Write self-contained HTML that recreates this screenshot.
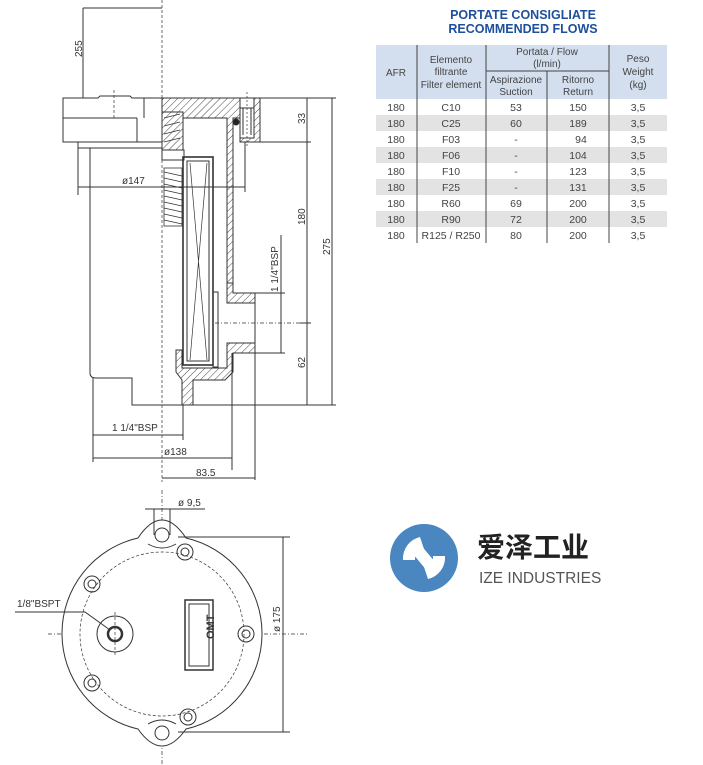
<!DOCTYPE html>
<html><head><meta charset="utf-8"><style>
html,body{margin:0;padding:0;background:#fff;}
body{width:703px;height:765px;position:relative;overflow:hidden;font-family:"Liberation Sans",Arial,sans-serif;}
svg{position:absolute;left:0;top:0;}
</style></head><body>
<svg width="703" height="765" viewBox="0 0 703 765" xmlns="http://www.w3.org/2000/svg" font-family="Liberation Sans, Arial, sans-serif">
<defs>
<pattern id="h" width="5" height="5" patternUnits="userSpaceOnUse" patternTransform="rotate(45)">
<rect width="5" height="5" fill="#fff"/><line x1="0" y1="0" x2="0" y2="5" stroke="#333" stroke-width="0.9"/>
</pattern>
</defs>
<g stroke="#333" stroke-width="1" fill="none">
<line x1="162" y1="0" x2="162" y2="482" stroke-dasharray="3,2" stroke-width="0.7"/>
<line x1="162" y1="490" x2="162" y2="765" stroke-dasharray="4,2,1,2" stroke-width="0.7"/>
<line x1="48" y1="634" x2="308" y2="634" stroke-dasharray="4,2,1,2" stroke-width="0.7"/>
<line x1="83" y1="8" x2="83" y2="98"/><line x1="83" y1="8" x2="162" y2="8"/>
<path d="M63 98 H98 L100 96 H130 L132 98 H162 V142 H63 Z" fill="#fff"/>
<line x1="63" y1="118" x2="137" y2="118"/><line x1="137" y1="118" x2="137" y2="142"/><line x1="144" y1="98" x2="144" y2="118"/>
<line x1="114" y1="90" x2="114" y2="118" stroke-dasharray="3,2" stroke-width="0.7"/>
<path d="M78 142 V148 H162"/>
<path d="M90 148 V373 Q90 378 96 378 H132 V405 H185"/>
<line x1="78" y1="148" x2="78" y2="195"/>
<path d="M162 98 H260 V142 H240 V118 H233 V283 H227 V118 H162 Z" fill="url(#h)"/>
<path d="M162 112 H183 V150 H162 Z" fill="url(#h)"/>
<path d="M227 283 H233 V293 H255 V303 H227 Z" fill="url(#h)"/>
<path d="M227 343 H255 V353 H233 V372 L225 380 H193 V405 H182 V380 L176 372 V350 H182 V368 H227 Z" fill="url(#h)"/>
<rect x="240" y="98" width="14" height="40" fill="#fff"/>
<line x1="243" y1="108" x2="243" y2="135"/><line x1="251" y1="108" x2="251" y2="135"/><rect x="240" y="98" width="14" height="10"/>
<line x1="247" y1="92" x2="247" y2="148" stroke-dasharray="2,2" stroke-width="0.7"/>
<circle cx="236" cy="122" r="3" fill="#222"/>
<line x1="227" y1="303" x2="255" y2="303"/><line x1="227" y1="343" x2="255" y2="343"/>
<line x1="255" y1="293" x2="255" y2="480"/><line x1="232" y1="353" x2="232" y2="470"/>
<line x1="215" y1="323" x2="300" y2="323" stroke-dasharray="4,2,1,2" stroke-width="0.7"/>
<rect x="183" y="157" width="30" height="208" stroke-width="1.6"/>
<rect x="187" y="161" width="22" height="200"/>
<path d="M190 163 L207 360 M207 163 L190 360" stroke-width="0.7"/>
<rect x="213" y="292" width="5" height="75"/>
<rect x="162" y="150" width="22" height="10"/>
<g stroke-width="0.8">
<rect x="164" y="168" width="18" height="58"/>
<path d="M164 172 L182 176 M164 178 L182 182 M164 184 L182 188 M164 190 L182 194 M164 196 L182 200 M164 202 L182 206 M164 208 L182 212 M164 214 L182 218 M164 220 L182 224"/>
<path d="M164 118 L180 114 M164 126 L180 122 M164 134 L180 130 M164 142 L180 138"/>
</g>
<line x1="307" y1="98" x2="307" y2="405"/><line x1="332" y1="98" x2="332" y2="405"/>
<line x1="260" y1="98" x2="336" y2="98"/><line x1="260" y1="142" x2="311" y2="142"/>
<line x1="300" y1="323" x2="311" y2="323"/><line x1="185" y1="405" x2="336" y2="405"/>
<line x1="281" y1="235" x2="281" y2="353"/><line x1="255" y1="293" x2="285" y2="293"/><line x1="255" y1="353" x2="285" y2="353"/>
<line x1="78" y1="187" x2="245" y2="187"/><line x1="245" y1="142" x2="245" y2="192"/>
<line x1="93" y1="378" x2="93" y2="462"/>
<line x1="93" y1="435" x2="183" y2="435"/><line x1="183" y1="405" x2="183" y2="440"/>
<line x1="93" y1="458" x2="232" y2="458"/>
<line x1="162" y1="478" x2="255" y2="478"/>
<path d="M138 538 Q150 520 162 520 Q174 520 186 538 A98 98 0 0 1 186 729 Q174 746 162 746 Q150 746 138 729 A98 98 0 0 1 138 538 Z" fill="#fff"/>
<path d="M148 544 Q162 552 176 544 M148 724 Q162 716 176 724" stroke-width="0.9"/>
<circle cx="162" cy="634" r="82" stroke-dasharray="3,2" stroke-width="0.7"/>
<circle cx="162" cy="535" r="7"/><circle cx="162" cy="733" r="7"/>
<g>
<circle cx="185" cy="552" r="8"/><circle cx="185" cy="552" r="4"/>
<circle cx="92" cy="584" r="8"/><circle cx="92" cy="584" r="4"/>
<circle cx="246" cy="634" r="8"/><circle cx="246" cy="634" r="4"/>
<circle cx="92" cy="683" r="8"/><circle cx="92" cy="683" r="4"/>
<circle cx="188" cy="717" r="8"/><circle cx="188" cy="717" r="4"/>
</g>
<circle cx="115" cy="634" r="18"/><circle cx="115" cy="634" r="7" stroke-width="2.5"/>
<line x1="115" y1="612" x2="115" y2="656" stroke-dasharray="3,2" stroke-width="0.7"/>
<rect x="185" y="600" width="28" height="70" stroke-width="1.5"/>
<rect x="189" y="604" width="20" height="62"/>
<path d="M15 612 H85 L110 630"/>
<line x1="154" y1="509" x2="154" y2="535"/><line x1="170" y1="509" x2="170" y2="535"/>
<line x1="145" y1="509" x2="205" y2="509"/>
<line x1="283" y1="537" x2="283" y2="732"/><line x1="178" y1="537" x2="290" y2="537"/><line x1="178" y1="732" x2="290" y2="732"/>
</g>
<g fill="#333" font-size="10">
<text x="0" y="0" transform="translate(82,57) rotate(-90)">255</text>
<text x="0" y="0" transform="translate(305,124) rotate(-90)">33</text>
<text x="0" y="0" transform="translate(305,225) rotate(-90)">180</text>
<text x="0" y="0" transform="translate(330,255) rotate(-90)">275</text>
<text x="0" y="0" transform="translate(305,368) rotate(-90)">62</text>
<text x="0" y="0" transform="translate(278,292) rotate(-90)">1 1/4"BSP</text>
<text x="122" y="184">ø147</text>
<text x="112" y="431">1 1/4"BSP</text>
<text x="164" y="455">ø138</text>
<text x="196" y="476">83.5</text>
<text x="178" y="506">ø 9,5</text>
<text x="17" y="607">1/8"BSPT</text>
<text x="0" y="0" transform="translate(280,632) rotate(-90)">ø 175</text>
<text x="195" y="650" font-size="11" font-weight="bold" transform="rotate(-90 199 635)">OMT</text>
</g>
<g font-family="Liberation Sans, Arial, sans-serif">
<text x="523" y="19" text-anchor="middle" font-size="12.5" font-weight="bold" fill="#1d4f9c">PORTATE CONSIGLIATE</text>
<text x="523" y="33" text-anchor="middle" font-size="12.5" font-weight="bold" fill="#1d4f9c">RECOMMENDED FLOWS</text>
<rect x="376" y="45" width="291" height="54" fill="#d3deee"/>
<g fill="#e3e3e3">
<rect x="376" y="115" width="291" height="16"/><rect x="376" y="147" width="291" height="16"/>
<rect x="376" y="179" width="291" height="16"/><rect x="376" y="211" width="291" height="16"/>
</g>
<g stroke="#444" stroke-width="1">
<line x1="417" y1="45" x2="417" y2="243"/><line x1="486" y1="45" x2="486" y2="243"/>
<line x1="547" y1="71" x2="547" y2="243"/><line x1="609" y1="45" x2="609" y2="243"/>
<line x1="486" y1="71" x2="609" y2="71"/>
</g>
<g font-size="10" fill="#444" text-anchor="middle">
<text x="396" y="76">AFR</text>
<text x="451" y="63">Elemento</text><text x="451" y="75">filtrante</text><text x="451" y="88">Filter element</text>
<text x="547" y="55">Portata / Flow</text><text x="547" y="67">(l/min)</text>
<text x="516" y="83">Aspirazione</text><text x="516" y="95">Suction</text>
<text x="578" y="83">Ritorno</text><text x="578" y="95">Return</text>
<text x="638" y="62">Peso</text><text x="638" y="75">Weight</text><text x="638" y="88">(kg)</text>
<g font-size="10.5">
<text x="396" y="111">180</text><text x="451" y="111">C10</text><text x="516" y="111">53</text><text x="578" y="111">150</text><text x="638" y="111">3,5</text>
<text x="396" y="127">180</text><text x="451" y="127">C25</text><text x="516" y="127">60</text><text x="578" y="127">189</text><text x="638" y="127">3,5</text>
<text x="396" y="143">180</text><text x="451" y="143">F03</text><text x="516" y="143">-</text><text x="581" y="143">94</text><text x="638" y="143">3,5</text>
<text x="396" y="159">180</text><text x="451" y="159">F06</text><text x="516" y="159">-</text><text x="578" y="159">104</text><text x="638" y="159">3,5</text>
<text x="396" y="175">180</text><text x="451" y="175">F10</text><text x="516" y="175">-</text><text x="578" y="175">123</text><text x="638" y="175">3,5</text>
<text x="396" y="191">180</text><text x="451" y="191">F25</text><text x="516" y="191">-</text><text x="578" y="191">131</text><text x="638" y="191">3,5</text>
<text x="396" y="207">180</text><text x="451" y="207">R60</text><text x="516" y="207">69</text><text x="578" y="207">200</text><text x="638" y="207">3,5</text>
<text x="396" y="223">180</text><text x="451" y="223">R90</text><text x="516" y="223">72</text><text x="578" y="223">200</text><text x="638" y="223">3,5</text>
<text x="396" y="239">180</text><text x="451" y="239">R125 / R250</text><text x="516" y="239">80</text><text x="578" y="239">200</text><text x="638" y="239">3,5</text>
</g></g>
</g>
<circle cx="424" cy="558" r="34" fill="#4a86c0"/>
<path d="M403 560 A22 22 0 0 1 420 537 L424 549 A10 10 0 0 0 415 560 Z" fill="#fff"/>
<path d="M445 556 A22 22 0 0 1 428 579 L424 567 A10 10 0 0 0 433 556 Z" fill="#fff"/>
<path d="M408 548 L420 544 L440 568 L428 572 Z" fill="#fff"/>
<text x="477" y="557" font-family="Noto Sans CJK SC, WenQuanYi Zen Hei, sans-serif" font-size="28" font-weight="bold" fill="#222">爱泽工业</text>
<text x="479" y="583" font-size="15.5" fill="#555">IZE INDUSTRIES</text>
</svg>
</body></html>
